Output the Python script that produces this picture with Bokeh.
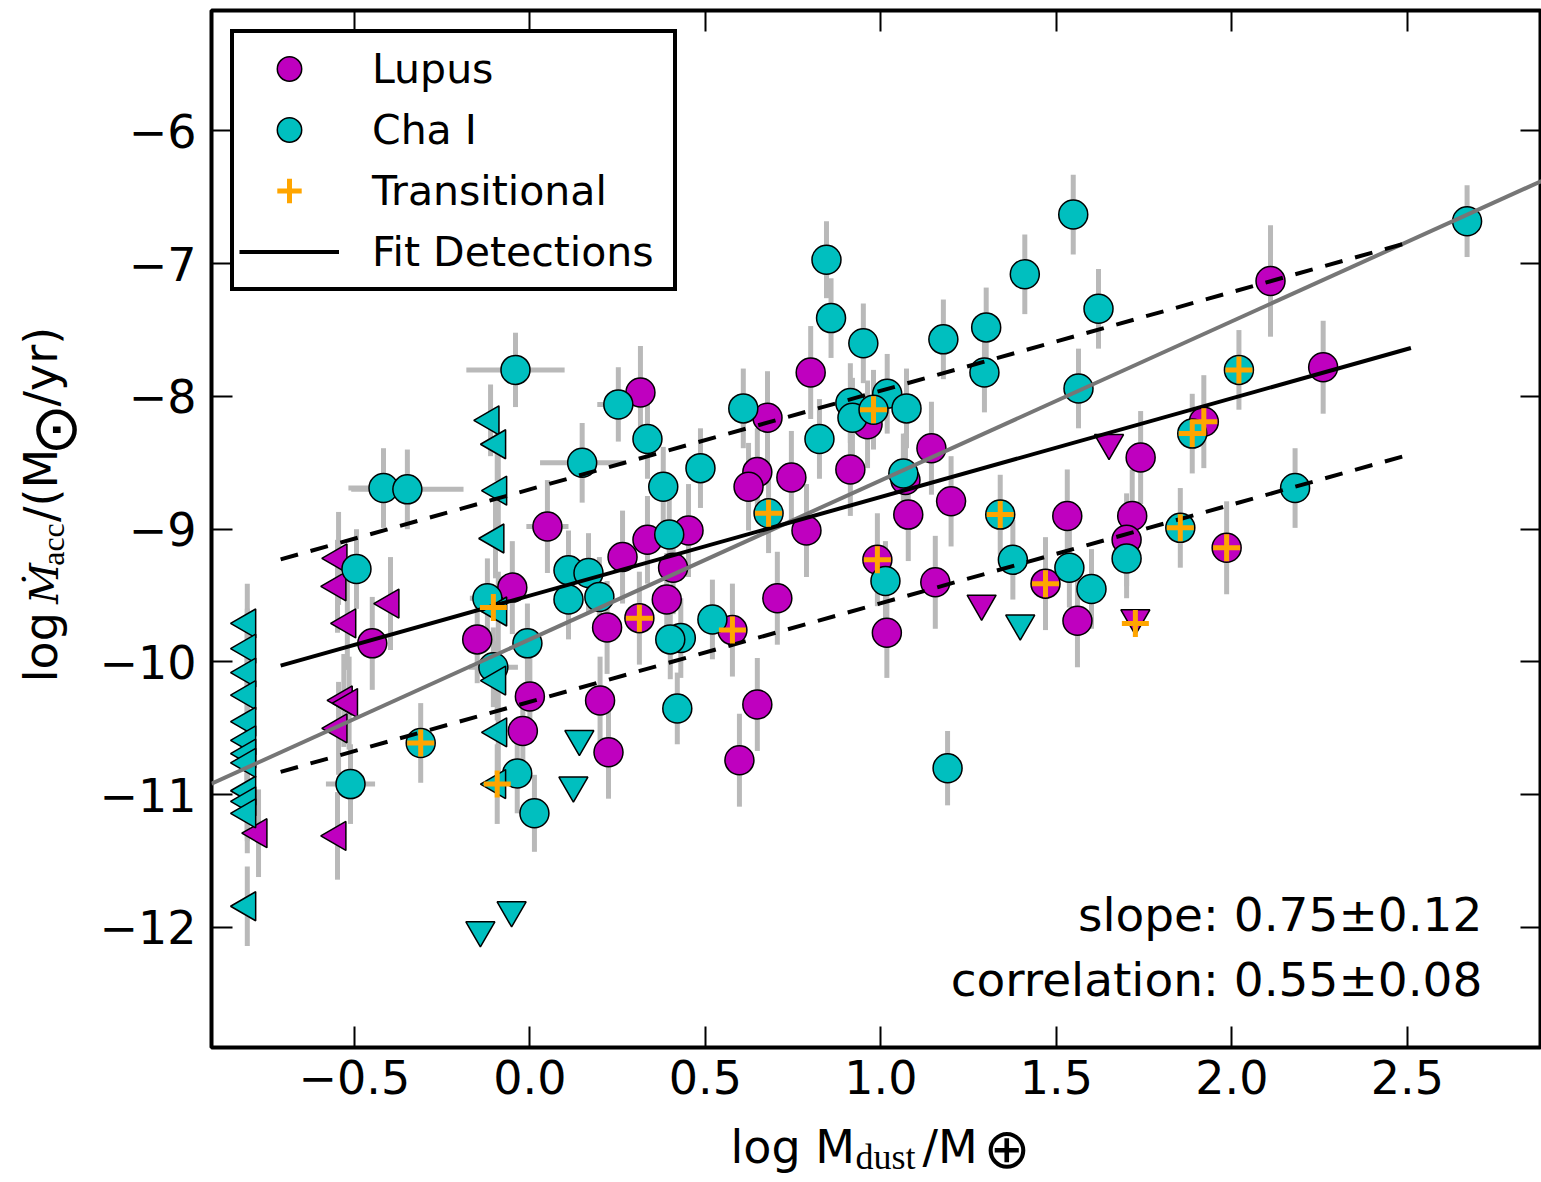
import numpy as np
from bokeh.plotting import figure
from bokeh.layouts import row, column
from bokeh.models import (Range1d, LinearAxis, FixedTicker, CustomJSTickFormatter,
                          Label, Legend, LegendItem)
from bokeh.core.properties import value
from bokeh.embed import file_html
from bokeh.resources import INLINE

# ---------------- data ----------------
# Lupus detections (circles)
lupus_x = [0.315, 0.80, 0.677, 0.913, 0.648, 0.623, 0.745, 0.05, 0.335, 0.452, 0.264, 0.408,
           -0.05, 0.788, 0.39, 0.705, 0.22, -0.15, -0.449, 0.0, -0.02, 0.20, 0.224, 0.648,
           0.597, 0.962, 1.078, 1.20, 1.144, 1.531, 1.716, 1.70, 1.155, 1.017, 1.56, 1.74,
           2.11, 2.26, 1.07, 0.99, 1.469, 1.985, 0.312, 0.577, 1.92]
lupus_y = [-7.97, -7.82, -8.16, -8.55, -8.57, -8.68, -8.61, -8.98, -9.08, -9.01, -9.21, -9.29,
           -9.44, -9.01, -9.53, -9.52, -9.74, -9.83, -9.86, -10.26, -10.52, -10.29, -10.68, -10.32,
           -10.74, -8.21, -8.89, -8.79, -8.39, -8.90, -8.90, -9.08, -9.40, -9.78, -9.69, -8.46,
           -7.13, -7.78, -8.63, -9.23, -9.41, -9.14, -9.67, -9.76, -8.19]
lupus_yerr = [0.35, 0.35, 0.35, 0.35, 0.33, 0.33, 0.35, 0.35, 0.33, 0.35, 0.35, 0.35,
              0.35, 0.35, 0.35, 0.35, 0.35, 0.33, 0.35, 0.35, 0.35, 0.33, 0.35, 0.35,
              0.35, 0.33, 0.35, 0.34, 0.35, 0.35, 0.35, 0.35, 0.35, 0.34, 0.35, 0.35,
              0.42, 0.35, 0.35, 0.35, 0.35, 0.35, 0.35, 0.35, 0.35]
lupus_xerr = [0, 0, 0, 0, 0, 0, 0, 0.06, 0, 0, 0, 0,
              0, 0, 0, 0, 0, 0, 0, 0, 0, 0, 0, 0,
              0, 0, 0, 0, 0, 0, 0, 0, 0, 0, 0, 0,
              0, 0.03, 0, 0, 0, 0, 0, 0, 0]

# Cha I detections (circles)
cha_x = [-0.041, -0.417, -0.349, -0.494, -0.511, 0.149, 0.252, 0.335, 0.380, 0.486, 0.397, 0.11,
         0.167, 0.11, 0.198, 0.52, 0.43, 0.40, -0.007, 0.42, -0.036, 0.013, -0.104, -0.121,
         0.845, 0.858, 0.95, 1.178, 1.30, 1.41, 1.548, 1.62, 1.295, 1.563, 0.825, 0.913,
         0.919, 1.018, 1.073, 1.064, 1.013, 1.376, 1.537, 1.60, 1.70, 1.19, 2.67, 2.18,
         0.608, 0.68, 0.979, 1.34, 1.853, 1.887, 2.02, -0.311]
cha_y = [-7.80, -8.69, -8.70, -9.30, -10.92, -8.50, -8.06, -8.32, -8.68, -8.54, -9.04, -9.31,
         -9.33, -9.53, -9.51, -9.68, -9.82, -9.83, -9.86, -10.35, -10.84, -11.14, -10.04, -9.52,
         -6.97, -7.41, -7.60, -7.57, -7.48, -7.08, -6.63, -7.34, -7.82, -7.94, -8.32, -8.05,
         -8.16, -7.98, -8.09, -8.58, -9.39, -9.23, -9.29, -9.45, -9.22, -10.80, -6.68, -8.69,
         -8.09, -8.88, -8.10, -8.89, -8.99, -8.28, -7.80, -10.61]
cha_yerr = [0.28, 0.3, 0.3, 0.3, 0.3, 0.3, 0.28, 0.3, 0.3, 0.3, 0.3, 0.3,
            0.3, 0.3, 0.3, 0.3, 0.3, 0.3, 0.3, 0.27, 0.3, 0.29, 0.3, 0.3,
            0.29, 0.3, 0.3, 0.3, 0.3, 0.3, 0.3, 0.3, 0.3, 0.3, 0.3, 0.3,
            0.3, 0.3, 0.3, 0.3, 0.3, 0.3, 0.3, 0.3, 0.3, 0.28, 0.27, 0.3,
            0.3, 0.3, 0.3, 0.3, 0.3, 0.3, 0.3, 0.3]
cha_xerr = [0.14, 0.10, 0.16, 0, 0.07, 0.12, 0.06, 0, 0, 0, 0, 0,
            0, 0, 0, 0, 0, 0, 0, 0, 0, 0, 0.07, 0.05,
            0, 0, 0, 0, 0, 0, 0, 0, 0, 0, 0, 0,
            0, 0, 0, 0, 0, 0, 0, 0, 0, 0, 0, 0,
            0, 0, 0, 0, 0, 0, 0, 0]

# upper limits on dust mass (left-pointing triangles)
cha_lim_x = [-0.805, -0.805, -0.805, -0.805, -0.805, -0.805, -0.805, -0.805, -0.805, -0.805,
             -0.805, -0.805, -0.112, -0.093, -0.09, -0.098, -0.09, -0.093, -0.09, -0.093]
cha_lim_y = [-9.71, -9.90, -10.08, -10.25, -10.45, -10.59, -10.69, -10.76, -10.97, -11.05,
             -11.14, -11.84, -8.18, -8.36, -8.71, -9.07, -9.62, -10.14, -10.53, -10.92]
cha_lim_yerr = [0.3, 0.3, 0.3, 0.3, 0.3, 0.3, 0.3, 0.3, 0.3, 0.3,
                0.3, 0.3, 0.27, 0.28, 0.3, 0.3, 0.3, 0.3, 0.3, 0.3]
lupus_lim_x = [-0.545, -0.548, -0.52, -0.397, -0.53, -0.515, -0.545, -0.548, -0.773]
lupus_lim_y = [-9.22, -9.43, -9.71, -9.56, -10.29, -10.31, -10.50, -11.31, -11.29]
lupus_lim_yerr = [0.35, 0.35, 0.35, 0.35, 0.35, 0.35, 0.35, 0.33, 0.33]

# upper limits on accretion rate (down-pointing triangles)
cha_acc_lim_x = [0.141, 0.124, -0.141, -0.052, 1.397]
cha_acc_lim_y = [-10.58, -10.93, -12.02, -11.87, -9.71]
lupus_acc_lim_x = [1.287, 1.65, 1.725]
lupus_acc_lim_y = [-9.56, -8.35, -9.67]

# transitional discs (orange plus)
trans_x = [0.99, 1.469, 1.985, 0.312, 0.577, 1.92, 0.68, 0.979, 1.34, 1.853, 1.887, 2.02,
           -0.311, -0.104, -0.093, 1.725]
trans_y = [-9.23, -9.41, -9.14, -9.67, -9.76, -8.19, -8.88, -8.10, -8.89, -8.99, -8.28, -7.80,
           -10.61, -9.59, -10.92, -9.71]

# fits
fit_slope, fit_intercept = 0.743, -9.50
fit_x = [-0.71, 2.51]
fit_scatter = 0.80
all_slope, all_intercept = 1.198, -9.83

x_ticks = [-0.5, 0.0, 0.5, 1.0, 1.5, 2.0, 2.5]
y_ticks = [-12, -11, -10, -9, -8, -7, -6]
X0, X1 = -0.907, 2.882
Y0, Y1 = -12.904, -5.093

slope_text = "slope: 0.75\u00b10.12"
corr_text = "correlation: 0.55\u00b10.08"

# ---------------- styles ----------------
MAG = "#BF00BF"
CYN = "#00BFBF"
ORG = "#FFA500"
ERR = "#b9b9b9"
FONT = "DejaVu Sans"

PAGE_W, PAGE_H = 1541, 1182
YLAB_W = 95          # width of the y-label strip
MAIN_H = 1113        # height of the main figure
FX0, FX1, FY0, FY1 = 211, 1539, 10, 1047   # frame in page px (for free text only)
BL = 0.35            # offset (in em) between the anchor and the drawn baseline


def dx(px):
    return X0 + (px - FX0) / (FX1 - FX0) * (X1 - X0)


def dy(py):
    return Y1 - (py - FY0) / (FY1 - FY0) * (Y1 - Y0)


p = figure(width=PAGE_W - YLAB_W, height=MAIN_H, output_backend="svg", toolbar_location=None,
           x_range=Range1d(X0, X1), y_range=Range1d(Y0, Y1),
           min_border_left=FX0 - YLAB_W, min_border_right=0, min_border_top=FY0,
           min_border_bottom=MAIN_H - FY1)
p.grid.visible = False
p.outline_line_color = "black"
p.outline_line_width = 4
p.background_fill_color = "white"
p.border_fill_color = "white"

for ax, ticks, fmt, so in ((p.xaxis[0], x_ticks, "return tick.toFixed(1).replace('-', '\u2212')", 12),
                           (p.yaxis[0], y_ticks, "return tick.toFixed(0).replace('-', '\u2212')", 15)):
    ax.ticker = FixedTicker(ticks=ticks)
    ax.formatter = CustomJSTickFormatter(code=fmt)
    ax.axis_line_color = None
    ax.major_tick_in = 21
    ax.major_tick_out = 0
    ax.major_tick_line_width = 2
    ax.minor_tick_line_color = None
    ax.major_label_text_font = FONT
    ax.major_label_text_font_size = "46px"
    ax.major_label_text_color = "black"
    ax.major_label_standoff = so

for ticks, side in ((x_ticks, "above"), (y_ticks, "right")):
    ax = LinearAxis(ticker=FixedTicker(ticks=ticks),
                    formatter=CustomJSTickFormatter(code="return ''"),
                    axis_line_color=None, major_tick_in=21, major_tick_out=0,
                    major_tick_line_width=2, minor_tick_line_color=None,
                    major_label_text_font_size="0px", major_label_standoff=0)
    p.add_layout(ax, side)


def errbars(xs, ys, yerr, xerr=None):
    xs = np.asarray(xs, float)
    ys = np.asarray(ys, float)
    ye = np.asarray(yerr, float)
    p.segment(x0=xs, y0=ys - ye, x1=xs, y1=ys + ye, line_color=ERR, line_width=5)
    if xerr is not None:
        xe = np.asarray(xerr, float)
        m = xe > 0
        p.segment(x0=xs[m] - xe[m], y0=ys[m], x1=xs[m] + xe[m], y1=ys[m],
                  line_color=ERR, line_width=5)


errbars(lupus_x, lupus_y, lupus_yerr, lupus_xerr)
errbars(cha_x, cha_y, cha_yerr, cha_xerr)
errbars(cha_lim_x, cha_lim_y, cha_lim_yerr)
errbars(lupus_lim_x, lupus_lim_y, lupus_lim_yerr)

MS = 29
r_lup = p.scatter(lupus_x, lupus_y, marker="circle", size=MS, fill_color=MAG,
                  line_color="black", line_width=1.5)
p.scatter(lupus_lim_x, lupus_lim_y, marker="triangle", angle=np.pi / 2, size=MS,
          fill_color=MAG, line_color="black", line_width=1.5)
p.scatter(lupus_acc_lim_x, lupus_acc_lim_y, marker="inverted_triangle", size=MS,
          fill_color=MAG, line_color="black", line_width=1.5)
r_cha = p.scatter(cha_x, cha_y, marker="circle", size=MS, fill_color=CYN,
                  line_color="black", line_width=1.5)
p.scatter(cha_lim_x, cha_lim_y, marker="triangle", angle=np.pi / 2, size=MS,
          fill_color=CYN, line_color="black", line_width=1.5)
p.scatter(cha_acc_lim_x, cha_acc_lim_y, marker="inverted_triangle", size=MS,
          fill_color=CYN, line_color="black", line_width=1.5)

gx = np.array([X0, X1])
p.line(gx, all_slope * gx + all_intercept, line_color="#767676", line_width=4)
fx = np.array(fit_x)
fy = fit_slope * fx + fit_intercept
r_fit = p.line(fx, fy, line_color="black", line_width=4)
p.line(fx, fy + fit_scatter, line_color="black", line_width=4, line_dash="18 13")
p.line(fx, fy - fit_scatter, line_color="black", line_width=4, line_dash="18 13")

r_tr = p.scatter(trans_x, trans_y, marker="cross", size=27, line_color=ORG, line_width=5)

legend = Legend(items=[LegendItem(label="Lupus", renderers=[r_lup]),
                       LegendItem(label="Cha I", renderers=[r_cha]),
                       LegendItem(label="Transitional", renderers=[r_tr]),
                       LegendItem(label="Fit Detections", renderers=[r_fit])],
                location="top_left", margin=19, padding=5, spacing=0,
                glyph_width=100, glyph_height=61, label_standoff=33, label_width=296,
                label_text_font=FONT, label_text_font_size="41px",
                label_text_color="black",
                border_line_color="black", border_line_width=4, border_line_alpha=1.0,
                background_fill_color="white", background_fill_alpha=1.0)
p.add_layout(legend)

for txt, py in ((slope_text, 930), (corr_text, 995)):
    p.add_layout(Label(x=dx(1480), y=dy(py - BL * 47), text=txt, text_font=FONT,
                       text_font_size="47px", text_align="right",
                       text_baseline="alphabetic", text_color="black"))


def text_fig(w, h):
    f = figure(width=w, height=h, output_backend="svg", toolbar_location=None,
               x_range=Range1d(0, w), y_range=Range1d(0, h),
               x_axis_type=None, y_axis_type=None, min_border=0)
    f.grid.visible = False
    f.outline_line_color = None
    f.background_fill_color = "white"
    f.border_fill_color = "white"
    return f


def piece(f, x, y, s, size, font=FONT, style="normal", angle=0.0):
    f.text(x=[x], y=[y], text=[s], text_font=value(font), text_font_size=value(f"{size}px"),
           text_font_style=style, text_align="left", text_baseline="alphabetic",
           angle=angle, text_color="black")


# y-axis label strip (page x 0..95, page y 0..MAIN_H); baseline at page x, start at page y
ylab = text_fig(YLAB_W, MAIN_H)
A = np.pi / 2


def ypiece(base_x, start_y, s, size, **kw):
    piece(ylab, base_x - BL * size, MAIN_H - start_y, s, size, angle=A, **kw)


ypiece(57, 721, "log", 46)
ypiece(57, 637, "\u1e40", 40, font="DejaVu Serif", style="italic")
ypiece(64, 596, "acc", 32, font="Liberation Serif")
ypiece(57, 549, "/(M", 46)
ypiece(76, 478, "\u2299", 62)
ypiece(57, 425, "/yr)", 46)

# x-axis label strip (page y MAIN_H..PAGE_H)
XL_H = PAGE_H - MAIN_H
xlab = text_fig(PAGE_W, XL_H)


def xpiece(left_x, base_y, s, size, **kw):
    piece(xlab, left_x, PAGE_H - (base_y - BL * size), s, size, **kw)


xpiece(730, 1163, "log M", 46)
xpiece(855, 1169, "dust", 36, font="Liberation Serif")
xpiece(922, 1163, "/M", 46)
xpiece(983, 1168, "\u2295", 56)

layout = column(row(ylab, p, spacing=0), xlab, spacing=0)
open("out.html", "w").write(file_html(layout, INLINE))
